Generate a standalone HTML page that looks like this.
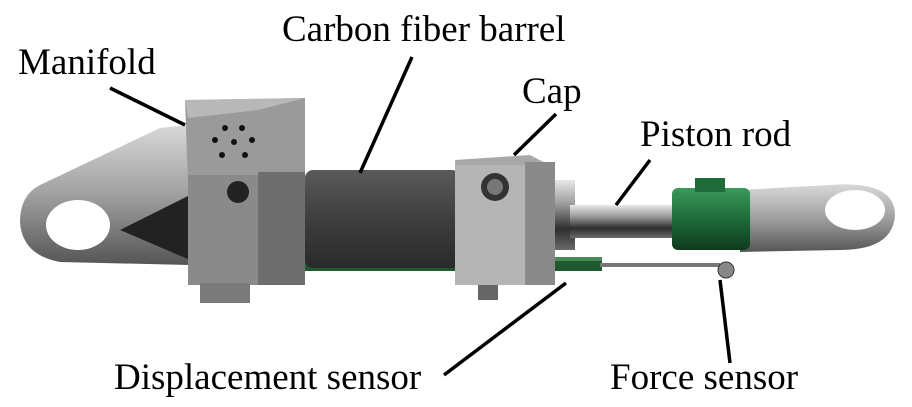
<!DOCTYPE html>
<html><head><meta charset="utf-8"><style>
html,body{margin:0;padding:0;background:#fff;}
svg{display:block}
text{font-family:"Liberation Serif",serif;font-size:37px;fill:#000}
</style></head><body>
<svg width="912" height="407" viewBox="0 0 912 407" xmlns="http://www.w3.org/2000/svg">
<defs>
<linearGradient id="cyl" x1="0" y1="0" x2="0" y2="1">
<stop offset="0" stop-color="#e8e8e8"/><stop offset="0.35" stop-color="#9a9a9a"/><stop offset="0.7" stop-color="#2e2e2e"/><stop offset="1" stop-color="#6a6a6a"/></linearGradient>
<linearGradient id="carb" x1="0" y1="0" x2="0" y2="1">
<stop offset="0" stop-color="#5a5a5a"/><stop offset="0.5" stop-color="#3e3e3e"/><stop offset="1" stop-color="#2a2a2a"/></linearGradient>
<linearGradient id="plate" x1="0" y1="0" x2="0" y2="1">
<stop offset="0" stop-color="#d8d8d8"/><stop offset="0.5" stop-color="#a0a0a0"/><stop offset="1" stop-color="#555"/></linearGradient>
<linearGradient id="grn" x1="0" y1="0" x2="0" y2="1">
<stop offset="0" stop-color="#3a9a5a"/><stop offset="0.5" stop-color="#1f6b3a"/><stop offset="1" stop-color="#0e3a1e"/></linearGradient>
</defs>
<path d="M40 185 L160 128 L190 125 L190 265 L60 262 Q22 255 20 222 Q20 195 40 185Z" fill="url(#plate)"/>
<ellipse cx="78" cy="225" rx="32" ry="25" fill="#fff"/>
<path d="M120 230 L190 195 L190 260Z" fill="#222"/>
<rect x="250" y="188" width="220" height="76" fill="url(#cyl)"/>
<rect x="252" y="257" width="350" height="14" fill="#1f5a2e"/>
<rect x="252" y="257" width="350" height="4" fill="#4a8a5a"/>
<rect x="600" y="263" width="120" height="4" fill="#777"/>
<polygon points="185,100 305,98 305,172 258,182 188,182" fill="#9a9a9a"/>
<polygon points="185,100 305,98 258,110 188,118" fill="#b8b8b8"/>
<rect x="188" y="175" width="70" height="110" fill="#8a8a8a"/>
<rect x="258" y="172" width="47" height="113" fill="#6e6e6e"/>
<rect x="200" y="283" width="50" height="20" fill="#7a7a7a"/>
<circle cx="238" cy="192" r="11" fill="#222"/>
<g fill="#111"><circle cx="225" cy="128" r="3"/><circle cx="242" cy="128" r="3"/><circle cx="215" cy="140" r="3"/><circle cx="234" cy="142" r="3"/><circle cx="252" cy="140" r="3"/><circle cx="222" cy="155" r="3"/><circle cx="245" cy="155" r="3"/></g>
<rect x="305" y="170" width="155" height="98" rx="8" fill="url(#carb)"/>
<rect x="535" y="180" width="40" height="70" fill="url(#cyl)"/>
<rect x="570" y="205" width="110" height="33" fill="url(#cyl)"/>
<polygon points="455,160 530,155 555,168 555,285 460,285" fill="#a8a8a8"/>
<rect x="455" y="165" width="70" height="120" fill="#b5b5b5"/>
<rect x="525" y="162" width="30" height="123" fill="#8a8a8a"/>
<circle cx="495" cy="187" r="14" fill="#333"/>
<circle cx="495" cy="187" r="8" fill="#777"/>
<rect x="478" y="285" width="20" height="15" fill="#666"/>
<path d="M740 190 L830 185 Q895 180 895 215 Q893 250 840 250 L740 252Z" fill="url(#plate)"/>
<ellipse cx="855" cy="210" rx="30" ry="20" fill="#fff"/>
<rect x="672" y="188" width="78" height="62" rx="6" fill="url(#grn)"/>
<rect x="695" y="178" width="30" height="14" fill="#1f6b3a"/>
<circle cx="726" cy="270" r="8" fill="#888" stroke="#333"/>
<g stroke="#000" stroke-width="3.5" fill="none">
<line x1="110" y1="88" x2="185" y2="125"/>
<line x1="412" y1="57" x2="360" y2="173"/>
<line x1="556" y1="114" x2="514" y2="155"/>
<line x1="650" y1="160" x2="616" y2="205"/>
<line x1="444" y1="375" x2="566" y2="283"/>
<line x1="730" y1="363" x2="720" y2="280"/>
</g>
<text x="18" y="74">Manifold</text>
<text x="282" y="41">Carbon fiber barrel</text>
<text x="522" y="103">Cap</text>
<text x="640" y="146">Piston rod</text>
<text x="114" y="389">Displacement sensor</text>
<text x="610" y="389">Force sensor</text>
</svg>
</body></html>
